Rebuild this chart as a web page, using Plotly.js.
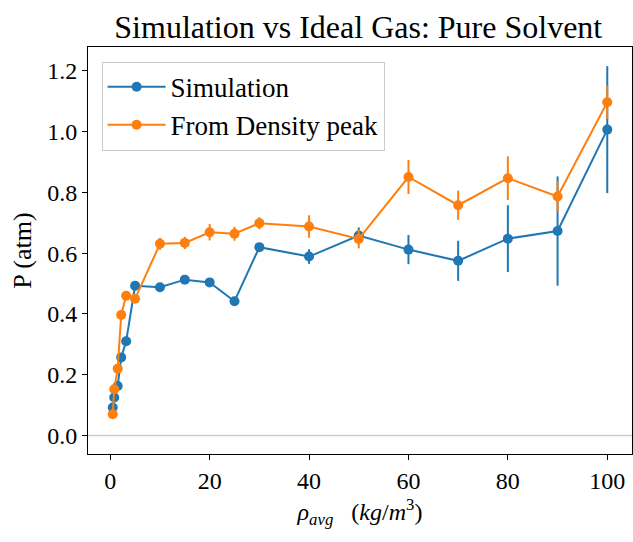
<!DOCTYPE html>
<html>
<head>
<meta charset="utf-8">
<script src="https://cdn.plot.ly/plotly-3.0.1.min.js"></script>
<style>html,body{margin:0;padding:0;background:#fff;}#chart{width:633px;height:542px;}</style>
</head>
<body>
<div id="chart"></div>
<script>
// Densities (kg/m^3)
const density = [0.5, 0.8, 1.5, 2.2, 3.2, 5, 10, 15, 20, 25, 30, 40, 50, 60, 70, 80, 90, 100];
// Simulation pressure (atm) and its error
const simP   = [0.092, 0.125, 0.163, 0.257, 0.310, 0.493, 0.488, 0.513, 0.504, 0.442, 0.620, 0.589, 0.658, 0.612, 0.575, 0.648, 0.673, 1.007];
const simErr = [0.008, 0.008, 0.008, 0.010, 0.010, 0.010, 0.010, 0.010, 0.010, 0.010, 0.012, 0.024, 0.027, 0.048, 0.066, 0.110, 0.180, 0.209];
// Pressure from density peak (atm) and its error
const peakP   = [0.070, 0.152, 0.220, 0.397, 0.460, 0.450, 0.631, 0.634, 0.669, 0.664, 0.699, 0.688, 0.647, 0.851, 0.758, 0.847, 0.787, 1.097];
const peakErr = [0.008, 0.008, 0.010, 0.010, 0.010, 0.012, 0.020, 0.020, 0.027, 0.023, 0.020, 0.037, 0.031, 0.056, 0.048, 0.072, 0.050, 0.055];
const yTicks = [0, 0.2, 0.4, 0.6, 0.8, 1.0, 1.2];
const xTicks = [0, 20, 40, 60, 80, 100];

const serif = "Liberation Serif, DejaVu Serif, serif";
const blue = "#1f77b4", orange = "#ff7f0e";

const traces = [
  {
    x: density, y: simP, name: "Simulation", type: "scatter", mode: "lines+markers",
    line: {color: blue, width: 2}, marker: {color: blue, size: 10},
    error_y: {type: "data", array: simErr, visible: true, color: blue, thickness: 2, width: 0}
  },
  {
    x: density, y: peakP, name: "From Density peak", type: "scatter", mode: "lines+markers",
    line: {color: orange, width: 2}, marker: {color: orange, size: 10},
    error_y: {type: "data", array: peakErr, visible: true, color: orange, thickness: 2, width: 0}
  }
];

const layout = {
  width: 633, height: 542,
  margin: {l: 88, r: 1, t: 47, b: 88},
  paper_bgcolor: "#fff", plot_bgcolor: "#fff",
  font: {family: serif, color: "#000", size: 24},
  title: {text: "Simulation vs Ideal Gas: Pure Solvent", font: {family: serif, size: 32, color: "#000"},
          x: 0.566, xanchor: "center", y: 0.95, yanchor: "middle"},
  xaxis: {
    range: [-4.475, 104.975], tickvals: xTicks, ticks: "outside", ticklen: 5, tickwidth: 1, tickcolor: "#000",
    showline: true, linecolor: "#000", linewidth: 1, mirror: true, showgrid: false, zeroline: false,
    tickfont: {family: serif, size: 24},
    title: {text: "<i>ρ</i><sub><i>avg</i></sub>   (<i>kg</i>/<i>m</i><sup>3</sup>)", font: {family: serif, size: 24}, standoff: 10}
  },
  yaxis: {
    range: [-0.061, 1.279], tickvals: yTicks, tickformat: ".1f", ticks: "outside", ticklen: 5, tickwidth: 1, tickcolor: "#000",
    showline: true, linecolor: "#000", linewidth: 1, mirror: true, showgrid: false, zeroline: false,
    tickfont: {family: serif, size: 24},
    title: {text: "P (atm)", font: {family: serif, size: 26}, standoff: 8}
  },
  legend: {
    x: 0.025, y: 0.964, xanchor: "left", yanchor: "top",
    bgcolor: "rgba(255,255,255,0.8)", bordercolor: "#cccccc", borderwidth: 1,
    itemwidth: 58,
    font: {family: serif, size: 27, color: "#000"}
  },
  shapes: [
    {type: "line", xref: "paper", yref: "y", x0: 0, x1: 1, y0: 0, y1: 0, layer: "below",
     line: {color: "#cccccc", width: 1.5}}
  ],
  showlegend: true
};

Plotly.newPlot("chart", traces, layout, {displayModeBar: false, staticPlot: true});
</script>
</body>
</html>
